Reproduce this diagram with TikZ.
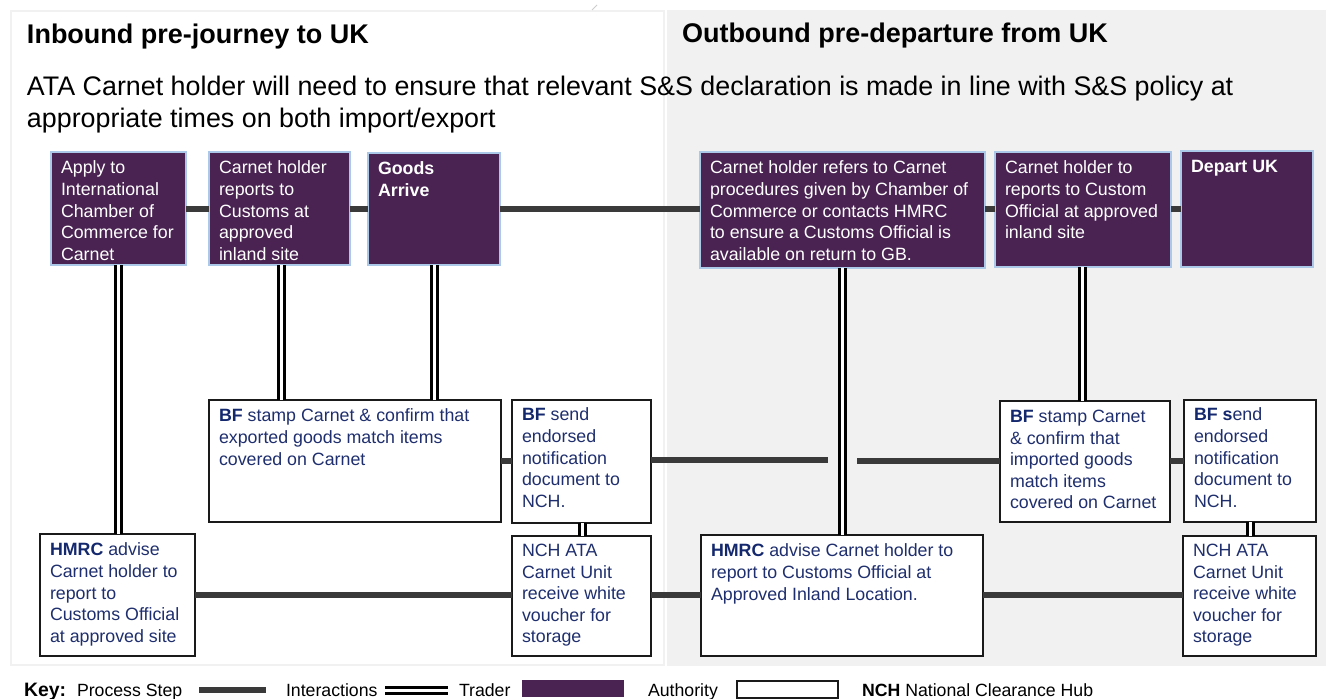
\documentclass[tikz,border=0pt]{standalone}
\usepackage{fontspec}
\setmainfont{Liberation Sans}
\definecolor{plum}{HTML}{4A2352}
\definecolor{plumedge}{HTML}{ABC8E8}
\definecolor{navy}{HTML}{1F2F6E}
\definecolor{navyb}{HTML}{14286E}
\definecolor{panelgrey}{HTML}{F1F1F1}
\definecolor{linegrey}{HTML}{3A3A3A}
\definecolor{edgeblack}{HTML}{1A1A1A}
\tikzset{
  x=1pt,y=-1pt,
  traderbox/.style={draw=plumedge,fill=plum,line width=2.2pt,text=white,inner sep=0pt,outer sep=0pt,anchor=north west},
  authbox/.style={draw=edgeblack,fill=white,line width=2.2pt,text=navy,inner sep=0pt,outer sep=0pt,anchor=north west},
  procline/.style={draw=linegrey,line width=6pt},
  interline/.style={draw=black,double=white,line width=3pt,double distance=3pt},
  plain/.style={inner sep=0pt,outer sep=0pt,anchor=base west},
}
\newcommand{\bt}[1]{\textbf{\textcolor{navyb}{#1}}}
% name, x1, y1, x2, y2, style, top pad, text
\newcommand{\flowbox}[8]{%
  \pgfmathsetmacro{\bw}{#4-#2}\pgfmathsetmacro{\bh}{#5-#3}%
  \node[#6] (#1) at (#2,#3) {\begin{minipage}[t][\bh pt][t]{\bw pt}\fontsize{17.8pt}{21.6pt}\selectfont
    \leftskip=10pt\rightskip=0pt plus 1fil\parindent=0pt\vspace*{#7pt}#8\end{minipage}};}
\begin{document}
\begin{tikzpicture}
\useasboundingbox (0,0) rectangle (1326,699);
\fill[white] (0,0) rectangle (1326,699);
% panels
\fill[panelgrey] (667,10) rectangle (1326,666);
\draw[panelgrey,line width=2.5pt,fill=white] (11,11) rectangle (664,665);
\draw[panelgrey!85!black,line width=1pt] (592,10) -- (597,5);
% headings
\node[plain,font=\bfseries\fontsize{27pt}{30pt}\selectfont] (h1) at (27,43.5) {Inbound pre-journey to UK};
\node[plain,font=\bfseries\fontsize{27pt}{30pt}\selectfont] (h2) at (682,42.5) {Outbound pre-departure from UK};
\node[plain,font=\fontsize{26.85pt}{30pt}\selectfont] (intro1) at (27,95) {ATA Carnet holder will need to ensure that relevant S\&S declaration is made in line with S\&S policy at};
\node[plain,font=\fontsize{26.85pt}{30pt}\selectfont] (intro2) at (27,127) {appropriate times on both import/export};
% trader boxes
\flowbox{p1}{51}{152}{186}{265}{traderbox}{9}{Apply to\\International\\Chamber of\\Commerce for\\Carnet}
\flowbox{p2}{209}{152}{350}{265}{traderbox}{9}{Carnet holder\\reports to\\Customs at\\approved\\inland site}
\flowbox{p3}{368}{153}{500}{265}{traderbox}{9}{\textbf{Goods}\\\textbf{Arrive}}
\flowbox{p4}{700}{152}{985}{268}{traderbox}{9}{Carnet holder refers to Carnet\\procedures given by Chamber of\\Commerce or contacts HMRC\\to ensure a Customs Official is\\available on return to GB.}
\flowbox{p5}{995}{152}{1171}{267}{traderbox}{9}{Carnet holder to\\reports to Custom\\Official at approved\\inland site}
\flowbox{p6}{1181}{151}{1313}{267}{traderbox}{9}{\textbf{Depart UK}}
% authority boxes
\flowbox{b1}{209}{400}{501}{522}{authbox}{9}{\bt{BF} stamp Carnet \& confirm that\\exported goods match items\\covered on Carnet}
\flowbox{b2}{512}{400}{651}{523}{authbox}{8}{\bt{BF} send\\endorsed\\notification\\document to\\NCH.}
\flowbox{h3}{40}{534}{195}{656}{authbox}{9}{\bt{HMRC} advise\\Carnet holder to\\report to\\Customs Official\\at approved site}
\flowbox{n1}{512}{536}{651}{656}{authbox}{8}{NCH ATA\\Carnet Unit\\receive white\\voucher for\\storage}
\flowbox{h4}{701}{535}{983}{656}{authbox}{9}{\bt{HMRC} advise Carnet holder to\\report to Customs Official at\\Approved Inland Location.}
\flowbox{b3}{1000}{401}{1170}{522}{authbox}{9}{\bt{BF} stamp Carnet\\\& confirm that\\imported goods\\match items\\covered on Carnet}
\flowbox{b4}{1184}{400}{1316}{522}{authbox}{8}{\bt{BF} \bt{s}end\\endorsed\\notification\\document to\\NCH.}
\flowbox{n2}{1183}{536}{1316}{656}{authbox}{8}{NCH ATA\\Carnet Unit\\receive white\\voucher for\\storage}
% process lines
\coordinate (gapl) at (828,460);
\coordinate (gapr) at (857,461);
\draw[procline] (p1.east |- 0,209) -- (p2.west |- 0,209);
\draw[procline] (p2.east |- 0,209) -- (p3.west |- 0,209);
\draw[procline] (p3.east |- 0,209) -- (p4.west |- 0,209);
\draw[procline] (p4.east |- 0,209) -- (p5.west |- 0,209);
\draw[procline] (p5.east |- 0,209) -- (p6.west |- 0,209);
\draw[procline] (b1.east |- 0,461) -- (b2.west |- 0,461);
\draw[procline] (b2.east |- gapl) -- (gapl);
\draw[procline] (gapr) -- (b3.west |- gapr);
\draw[procline] (b3.east |- 0,461) -- (b4.west |- 0,461);
\draw[procline] (h3.east |- 0,595) -- (n1.west |- 0,595);
\draw[procline] (n1.east |- 0,595) -- (h4.west |- 0,595);
\draw[procline] (h4.east |- 0,595) -- (n2.west |- 0,595);
% interaction lines
\draw[interline] (p1.south -| 118,0) -- (h3.north -| 118,0);
\draw[interline] (p2.south -| 281,0) -- (b1.north -| 281,0);
\draw[interline] (p3.south -| 434,0) -- (b1.north -| 434,0);
\draw[interline] (p4.south -| 842,0) -- (h4.north -| 842,0);
\draw[interline] (p5.south -| 1082,0) -- (b3.north -| 1082,0);
\draw[interline] (b2.south -| 582,0) -- (n1.north -| 582,0);
\draw[interline] (b4.south -| 1250,0) -- (n2.north -| 1250,0);
% key
\node[plain,font=\bfseries\fontsize{19.4pt}{20pt}\selectfont] (kkey) at (24,696) {Key:};
\node[plain,font=\fontsize{17.7pt}{20pt}\selectfont] (kproc) at (77,696) {Process Step};
\coordinate (kp1) at (199,690); \coordinate (kp2) at (266,690);
\draw[procline] (kp1) -- (kp2);
\node[plain,font=\fontsize{17.7pt}{20pt}\selectfont] (kint) at (286,696) {Interactions};
\coordinate (ki1) at (385,690); \coordinate (ki2) at (448,690);
\draw[interline] (ki1) -- (ki2);
\node[plain,font=\fontsize{17.7pt}{20pt}\selectfont] (ktr) at (459,696) {Trader};
\fill[plum] (522,680) rectangle (624,697);
\node[plain,font=\fontsize{17.7pt}{20pt}\selectfont] (kau) at (648,696) {Authority};
\draw[edgeblack,line width=2pt,fill=white] (737,681) rectangle (838,698);
\node[plain,font=\fontsize{17.7pt}{20pt}\selectfont] (knch) at (862,696) {\textbf{NCH} National Clearance Hub};
\end{tikzpicture}
\end{document}
